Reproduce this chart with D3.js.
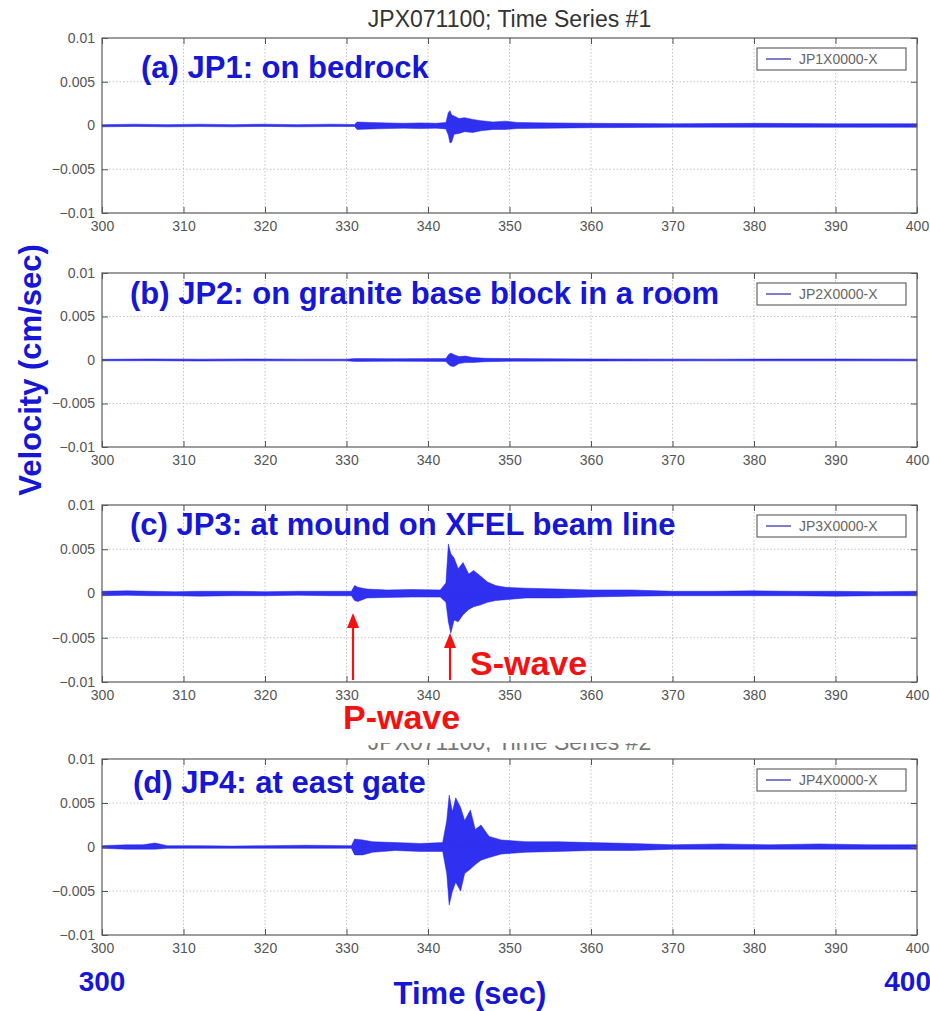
<!DOCTYPE html>
<html>
<head>
<meta charset="utf-8">
<script src="https://cdn.jsdelivr.net/npm/d3@7"></script>
<style>
  body { margin: 0; background: #fff; }
  svg { display: block; font-family: "Liberation Sans", Arial, sans-serif; }
  .tick text { fill: #555; font-size: 14px; }
  .tick line { stroke: #555; }
  .grid line { stroke: #c4c4c4; stroke-dasharray: 1.5 2; }
</style>
</head>
<body>
<svg id="chart" width="930" height="1011"></svg>
<script>
// --- Data ---
const xTicks = [300, 310, 320, 330, 340, 350, 360, 370, 380, 390, 400];
const yTicks = [0.01, 0.005, 0, -0.005, -0.01];
const yTickLabels = ["0.01", "0.005", "0", "\u22120.005", "\u22120.01"];
const stations = ["JP1X0000-X", "JP2X0000-X", "JP3X0000-X", "JP4X0000-X"];
const panelLabels = [
    "(a) JP1: on bedrock",
    "(b) JP2: on granite base block in a room",
    "(c) JP3: at mound on XFEL beam line",
    "(d) JP4: at east gate"
];

// envelopes: [time (s), upper, lower] in cm/sec
const jp1Env = [
    [300, 0.0001, -0.00015], [304, 0.00015, -0.0001], [308, 0.0001, -0.00015],
    [312, 0.00015, -0.00012], [316, 0.0001, -0.00015], [320, 0.00015, -0.0001],
    [324, 0.0001, -0.00015], [328, 0.00015, -0.00012], [331, 0.00012, -0.00012],
    [331.3, 0.0004, -0.00045], [333, 0.00035, -0.0004], [335, 0.0003, -0.00035],
    [337, 0.00025, -0.0003], [339, 0.0003, -0.00035], [341, 0.00025, -0.0003],
    [342.2, 0.00035, -0.0004], [342.5, 0.0015, -0.0011], [342.7, 0.0017, -0.002],
    [342.9, 0.0012, -0.0019], [343.2, 0.0011, -0.001], [343.8, 0.0008, -0.0009],
    [344.5, 0.0009, -0.0007], [345.5, 0.0007, -0.0008], [346.5, 0.00055, -0.0006],
    [348, 0.0004, -0.00045], [349.5, 0.0005, -0.00045], [351, 0.00035, -0.00035],
    [355, 0.0003, -0.0003], [360, 0.00025, -0.00025], [370, 0.0002, -0.0002],
    [380, 0.00025, -0.0002], [390, 0.0002, -0.0002], [400, 0.0002, -0.0002]
];
const jp2Env = [
    [300, 0.00008, -0.0001], [306, 0.00012, -0.00008], [312, 0.0001, -0.00012],
    [318, 0.00012, -0.0001], [324, 0.0001, -0.0001], [330, 0.0001, -0.0001],
    [331, 0.00016, -0.00016], [336, 0.00015, -0.00013], [342.2, 0.00016, -0.00016],
    [342.5, 0.0006, -0.0005], [342.8, 0.0008, -0.0007], [343.2, 0.0006, -0.00075],
    [343.8, 0.0004, -0.0004], [344.6, 0.00045, -0.0003], [345.5, 0.00028, -0.00028],
    [347, 0.0002, -0.0002], [350, 0.00016, -0.00014], [360, 0.00012, -0.00012],
    [375, 0.0001, -0.0001], [390, 0.00012, -0.0001], [400, 0.0001, -0.0001]
];
const jp3Env = [
    [300, 0.00025, -0.00025], [303, 0.0003, -0.0002], [306, 0.00025, -0.00025],
    [309, 0.0002, -0.00025], [312, 0.00025, -0.0003], [316, 0.00025, -0.00025],
    [320, 0.0002, -0.00025], [324, 0.00025, -0.0002], [328, 0.00025, -0.00025],
    [330.6, 0.00025, -0.00025], [331, 0.0009, -0.0008], [331.4, 0.0007, -0.0009],
    [332.5, 0.0005, -0.0005], [335, 0.0004, -0.00045], [338, 0.00045, -0.0004],
    [341.5, 0.0004, -0.0004], [342.2, 0.0012, -0.001], [342.5, 0.0056, -0.0032],
    [342.8, 0.0045, -0.0045], [343.2, 0.004, -0.003], [343.7, 0.0028, -0.0032],
    [344.3, 0.0035, -0.0024], [345, 0.0022, -0.0018], [345.6, 0.0026, -0.0015],
    [346.4, 0.002, -0.0013], [347.3, 0.0013, -0.001], [348.3, 0.0009, -0.0008],
    [349.5, 0.0007, -0.0007], [352, 0.0006, -0.0005], [356, 0.0005, -0.0005],
    [360, 0.0004, -0.0004], [365, 0.0004, -0.0003], [370, 0.00025, -0.00025],
    [375, 0.00025, -0.00025], [380, 0.0003, -0.00025], [385, 0.00025, -0.00025],
    [390, 0.00025, -0.0003], [395, 0.0002, -0.00025], [400, 0.00025, -0.00025]
];
const jp4Env = [
    [300, 0.00015, -0.00015], [303, 0.00025, -0.00025], [305, 0.00025, -0.00025],
    [306.5, 0.00045, -0.00025], [308, 0.00015, -0.00015], [312, 0.00015, -0.00015],
    [316, 0.0001, -0.00015], [320, 0.00015, -0.00015], [325, 0.0002, -0.00015],
    [330.6, 0.00015, -0.00015], [331, 0.0009, -0.0009], [332, 0.0008, -0.0009],
    [333.2, 0.0006, -0.0006], [336, 0.0005, -0.0004], [339, 0.0004, -0.0005],
    [341.8, 0.0005, -0.0005], [342.3, 0.003, -0.003], [342.6, 0.0059, -0.0066],
    [343, 0.004, -0.005], [343.4, 0.0056, -0.004], [344, 0.0045, -0.005],
    [344.5, 0.003, -0.003], [345.2, 0.0042, -0.0025], [345.8, 0.002, -0.002],
    [346.5, 0.0025, -0.0015], [347.5, 0.0012, -0.0012], [349, 0.0008, -0.0008],
    [352, 0.0006, -0.0006], [356, 0.0006, -0.0005], [360, 0.0005, -0.0004],
    [365, 0.0004, -0.0004], [370, 0.00025, -0.00025], [376, 0.00035, -0.00025],
    [382, 0.00025, -0.00025], [388, 0.00035, -0.00025], [394, 0.00025, -0.00025],
    [400, 0.00025, -0.00025]
];
const envelopes = [jp1Env, jp2Env, jp3Env, jp4Env];

// arrival picks shown on panel (c)
const wavePicks = [
    { name: "P-wave", t: 330.8 },
    { name: "S-wave", t: 342.7 }
];

// --- Layout ---
const W = 930, H = 1011;
const X0 = 102, X1 = 917;
const panelBoxes = [[38, 213], [273, 447], [505, 682], [759, 935]];
const labelPos = [[141, 78], [130, 304], [130, 535], [133, 793]];
const blue = "#1616d6", red = "#f21212", trace = "#1e1ef0";

const svg = d3.select("#chart");
svg.append("rect").attr("width", W).attr("height", H).attr("fill", "#fff");

const x = d3.scaleLinear().domain([300, 400]).range([X0, X1]);

// titles (the second one is cut off in the original slide)
svg.append("text")
    .attr("x", (X0 + X1) / 2).attr("y", 27)
    .attr("text-anchor", "middle")
    .style("font-size", "23px").style("fill", "#333")
    .text("JPX071100; Time Series #1");

svg.append("clipPath").attr("id", "cut-title")
    .append("rect").attr("x", 0).attr("y", 743).attr("width", W).attr("height", 9);
svg.append("text")
    .attr("x", (X0 + X1) / 2).attr("y", 750)
    .attr("text-anchor", "middle")
    .attr("clip-path", "url(#cut-title)")
    .style("font-size", "23px").style("fill", "#777")
    .text("JPX071100; Time Series #2");

panelBoxes.forEach(([top, bottom], i) => {
    const y = d3.scaleLinear().domain([-0.01, 0.01]).range([bottom, top]);
    const g = svg.append("g");

    // grid
    const grid = g.append("g").attr("class", "grid");
    grid.selectAll(".gx").data(xTicks.slice(1, -1)).join("line")
        .attr("x1", d => x(d)).attr("x2", d => x(d))
        .attr("y1", top).attr("y2", bottom);
    grid.selectAll(".gy").data(yTicks.slice(1, -1)).join("line")
        .attr("x1", X0).attr("x2", X1)
        .attr("y1", d => y(d)).attr("y2", d => y(d));

    // trace
    const area = d3.area()
        .x(d => x(d[0]))
        .y0(d => y(d[2]))
        .y1(d => y(d[1]));
    g.append("path")
        .datum(envelopes[i])
        .attr("d", area)
        .attr("fill", trace)
        .attr("fill-opacity", 0.92)
        .attr("stroke", trace)
        .attr("stroke-width", 0.5)
        .attr("stroke-linejoin", "round");

    // axes, MATLAB style: ticks pointing inwards on all sides
    g.append("g").attr("transform", `translate(0,${bottom})`)
        .call(d3.axisBottom(x).tickValues(xTicks).tickSizeInner(-6).tickSizeOuter(0).tickPadding(8).tickFormat(d3.format("d")))
        .call(a => a.select(".domain").remove());
    g.append("g").attr("transform", `translate(0,${top})`)
        .call(d3.axisTop(x).tickValues(xTicks).tickSizeInner(-6).tickSizeOuter(0).tickFormat(""))
        .call(a => a.select(".domain").remove());
    g.append("g").attr("transform", `translate(${X0},0)`)
        .call(d3.axisLeft(y).tickValues(yTicks).tickSizeInner(-6).tickSizeOuter(0).tickPadding(7)
            .tickFormat((d, k) => yTickLabels[k]))
        .call(a => a.select(".domain").remove());
    g.append("g").attr("transform", `translate(${X1},0)`)
        .call(d3.axisRight(y).tickValues(yTicks).tickSizeInner(-6).tickSizeOuter(0).tickFormat(""))
        .call(a => a.select(".domain").remove());

    g.append("rect")
        .attr("x", X0).attr("y", top)
        .attr("width", X1 - X0).attr("height", bottom - top)
        .attr("fill", "none").attr("stroke", "#5a5a5a").attr("stroke-width", 1.2);

    // legend
    const lg = g.append("g").attr("transform", `translate(757,${top + 10})`);
    lg.append("rect").attr("width", 149).attr("height", 22)
        .attr("fill", "#fff").attr("stroke", "#666").attr("stroke-width", 1.2);
    lg.append("line").attr("x1", 9).attr("x2", 34).attr("y1", 11).attr("y2", 11)
        .attr("stroke", "#7d7dc8").attr("stroke-width", 2);
    lg.append("text").attr("x", 42).attr("y", 16)
        .style("font-size", "14px").style("fill", "#666")
        .text(stations[i]);

    // panel caption
    g.append("text")
        .attr("x", labelPos[i][0]).attr("y", labelPos[i][1])
        .style("font-size", "31px").style("font-weight", "bold").style("fill", blue)
        .text(panelLabels[i]);
});

// P / S arrows on panel (c)
const cBottom = panelBoxes[2][1];
const arrowTips = [613, 633];
const pickLabels = [[343, 729], [470, 675]];
wavePicks.forEach((p, k) => {
    const px = x(p.t);
    svg.append("line")
        .attr("x1", px).attr("x2", px)
        .attr("y1", cBottom - 2).attr("y2", arrowTips[k] + 12)
        .attr("stroke", red).attr("stroke-width", 2.2);
    svg.append("path")
        .attr("d", `M${px},${arrowTips[k]} L${px - 6},${arrowTips[k] + 15} L${px + 6},${arrowTips[k] + 15} Z`)
        .attr("fill", red);
    svg.append("text")
        .attr("x", pickLabels[k][0]).attr("y", pickLabels[k][1])
        .style("font-size", "34px").style("font-weight", "bold").style("fill", red)
        .text(p.name);
});

// shared axis titles
svg.append("text")
    .attr("transform", "translate(41,370) rotate(-90)")
    .attr("text-anchor", "middle")
    .style("font-size", "31px").style("font-weight", "bold").style("fill", blue)
    .text("Velocity (cm/sec)");

svg.append("text")
    .attr("x", 470).attr("y", 1004)
    .attr("text-anchor", "middle")
    .style("font-size", "31px").style("font-weight", "bold").style("fill", blue)
    .text("Time (sec)");

svg.append("text")
    .attr("x", x(300)).attr("y", 991)
    .attr("text-anchor", "middle")
    .style("font-size", "28px").style("font-weight", "bold").style("fill", blue)
    .text(xTicks[0]);
svg.append("text")
    .attr("x", W + 1).attr("y", 991)
    .attr("text-anchor", "end")
    .style("font-size", "28px").style("font-weight", "bold").style("fill", blue)
    .text(xTicks[xTicks.length - 1]);
</script>
</body>
</html>
